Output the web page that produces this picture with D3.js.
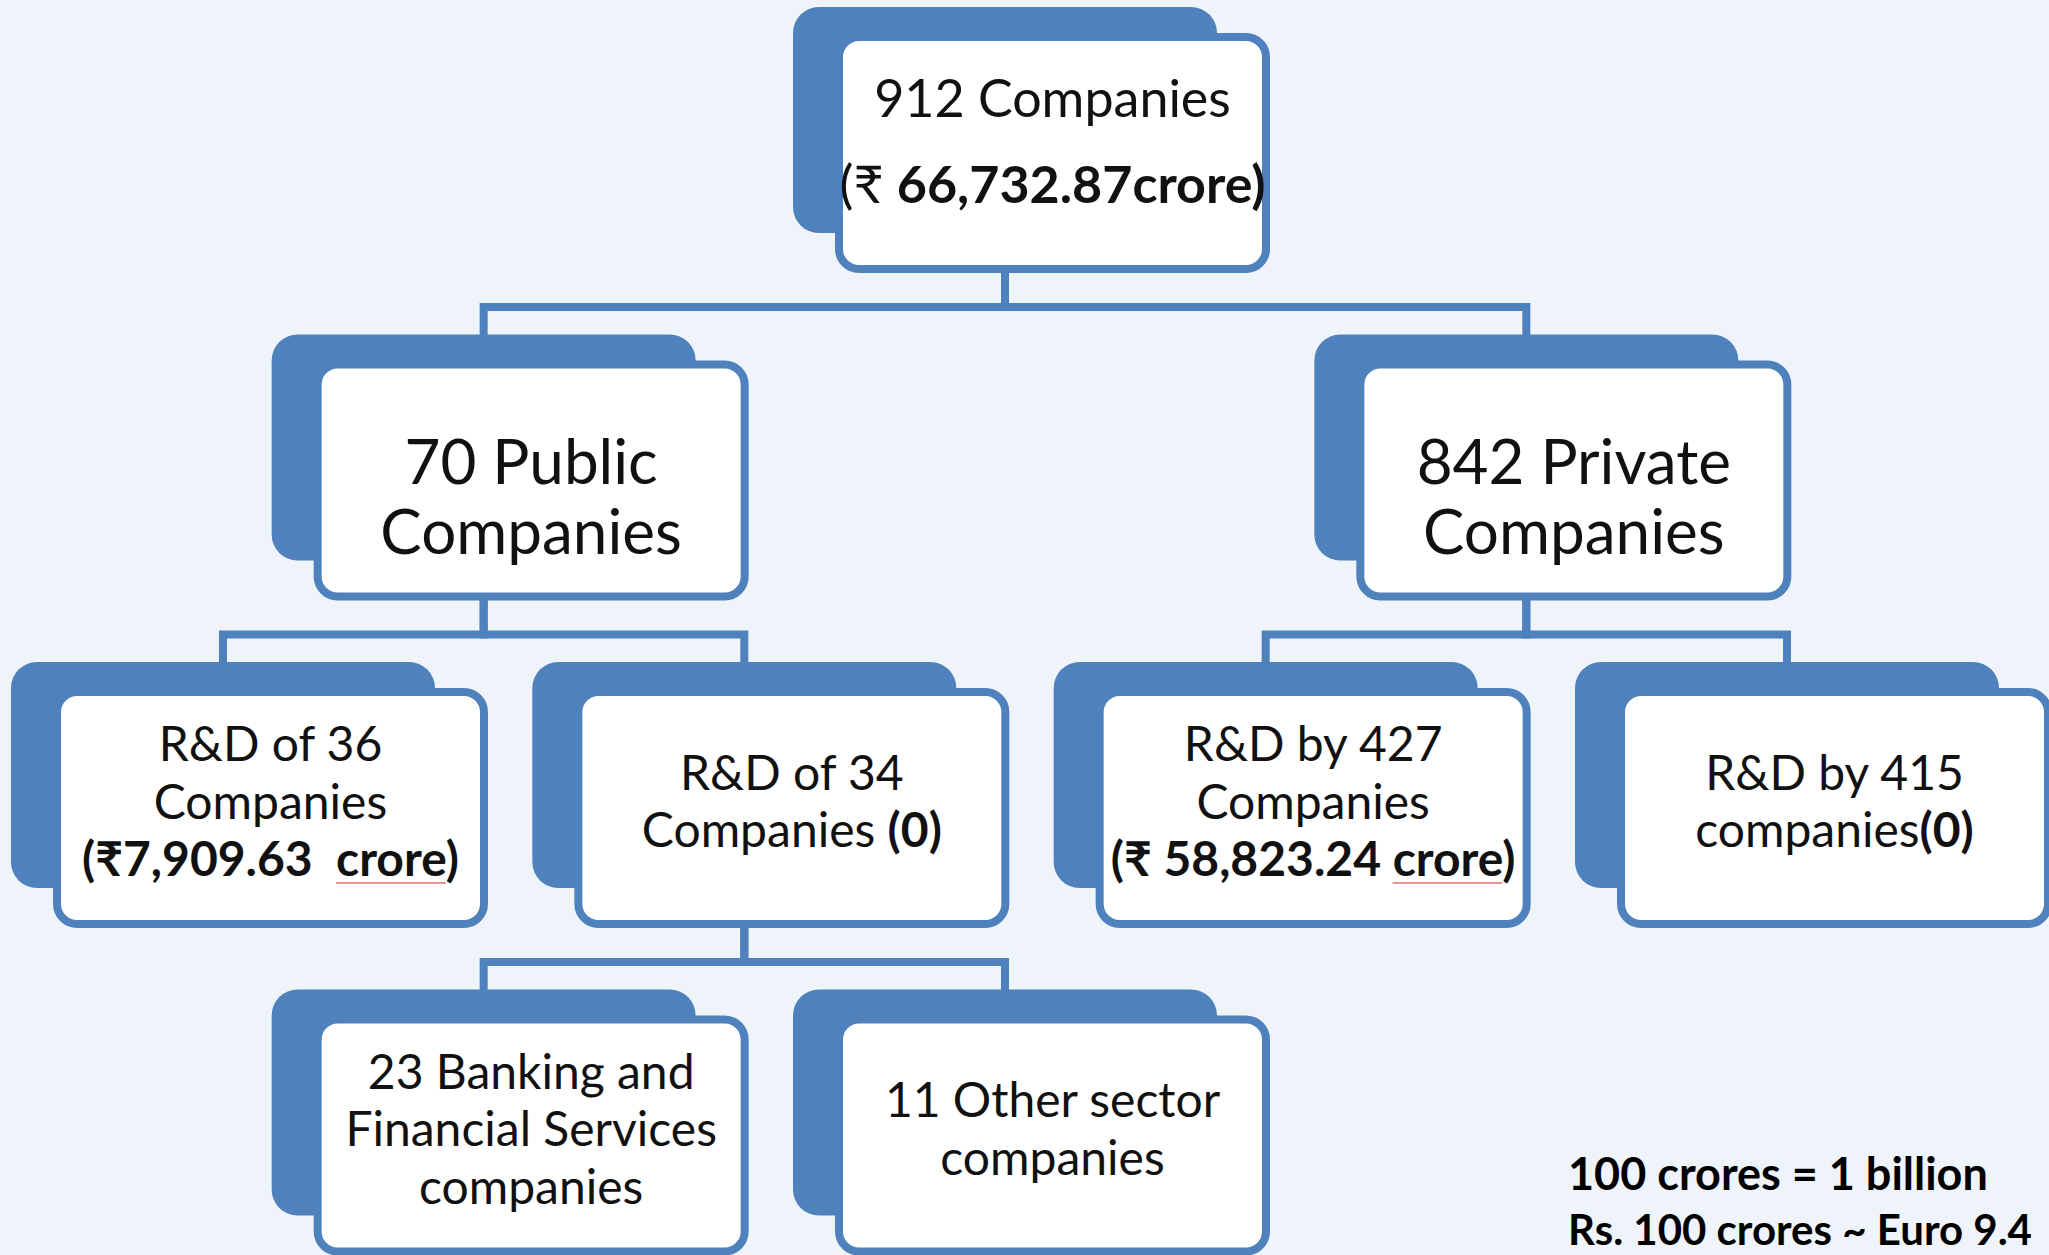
<!DOCTYPE html>
<html>
<head>
<meta charset="utf-8">
<script src="https://cdn.jsdelivr.net/npm/d3@7"></script>
<style>
  body { margin: 0; background: #eef4fa; overflow: hidden; }
  text { font-family: Lato, "Open Sans", "Noto Sans", sans-serif; white-space: pre; }
</style>
</head>
<body>
<script>
// org-chart nodes (id, parent, label lines; **...** = bold)
var nodeIds   = ["all", "public", "private", "pubRD", "pubNoRD", "privRD", "privNoRD", "banking", "other"];
var parentIds = ["",    "all",    "all",     "public", "public",  "private", "private", "pubNoRD", "pubNoRD"];
var nodeLines = [
  ["912 Companies", "(₹ **66,732.87crore)**"],
  ["70 Public", "Companies"],
  ["842 Private", "Companies"],
  ["R&D of 36", "Companies", "**(₹7,909.63  crore)**"],
  ["R&D of 34", "Companies **(0)**"],
  ["R&D by 427", "Companies", "**(₹ 58,823.24 crore)**"],
  ["R&D by 415", "companies**(0)**"],
  ["23 Banking and", "Financial Services", "companies"],
  ["11 Other sector", "companies"]
];
var footnotes = ["100 crores = 1 billion", "Rs. 100 crores ~ Euro 9.4"];

var width = 2049, height = 1255;
var blue = "#4f81bd";

var colStep = 260.67, rowStep = 327.5;
var originX = 1005, topY = 33;
var boxW = 435, boxH = 240;

// text style per depth
var depthStyle = [
  {size: 52, gap: 86, mid: 127},
  {size: 62, gap: 70, mid: 158},
  {size: 48, gap: 57.5, mid: 130.5},
  {size: 48, gap: 57.5, mid: 130.5}
];

var svg = d3.select("body").append("svg")
    .attr("width", width)
    .attr("height", height);

svg.append("rect")
    .attr("width", width)
    .attr("height", height)
    .attr("fill", "#eef4fa");

var rows = nodeIds.map(function(id, i) {
  return {id: id, parent: parentIds[i] || null, lines: nodeLines[i]};
});

var root = d3.stratify()
    .id(function(d) { return d.id; })
    .parentId(function(d) { return d.parent; })(rows);

d3.tree()
    .nodeSize([colStep, rowStep])
    .separation(function() { return 2; })(root);

function cx(d) { return originX + d.x; }
function boxTop(d) { return topY + d.y; }

// connectors
svg.append("g").selectAll("path")
    .data(root.links())
  .enter().append("path")
    .attr("fill", "none")
    .attr("stroke", blue)
    .attr("stroke-width", 8)
    .attr("d", function(l) {
      var y0 = boxTop(l.source) + boxH - 4, ym = boxTop(l.source) + boxH + 34;
      return "M" + cx(l.source) + "," + y0 + "V" + ym + "H" + cx(l.target) + "V" + (boxTop(l.target) - 20);
    });

var node = svg.append("g").selectAll("g")
    .data(root.descendants())
  .enter().append("g");

// back tab
node.append("rect")
    .attr("x", function(d) { return cx(d) - 212; })
    .attr("y", function(d) { return boxTop(d) - 26; })
    .attr("width", 424)
    .attr("height", boxH - 14)
    .attr("rx", 26)
    .attr("fill", blue);

// white card
node.append("rect")
    .attr("x", function(d) { return cx(d) - 170 + 4; })
    .attr("y", function(d) { return boxTop(d) + 4; })
    .attr("width", boxW - 8)
    .attr("height", boxH - 8)
    .attr("rx", 20)
    .attr("fill", "#fff")
    .attr("stroke", blue)
    .attr("stroke-width", 8);

node.each(function(d) {
  var st = depthStyle[d.depth];
  var lines = d.data.lines;
  var g = d3.select(this);
  var tx = cx(d) - 170 + boxW / 2;
  lines.forEach(function(line, i) {
    var y = boxTop(d) + st.mid + (i - (lines.length - 1) / 2) * st.gap;
    var t = g.append("text")
        .attr("x", tx)
        .attr("y", y)
        .attr("text-anchor", "middle")
        .attr("font-size", st.size)
        .attr("fill", "#111");
    line.split(/\*\*(.*?)\*\*/).forEach(function(part, j) {
      if (!part) return;
      t.append("tspan")
          .attr("font-weight", j % 2 ? "bold" : "normal")
          .text(part);
    });

    // spell-check squiggle under a lone "crore"
    var k = t.text().indexOf(" crore");
    if (d.depth === 2 && k >= 0) {
      var el = t.node();
      var x0 = el.getStartPositionOfChar(k + 1).x,
          x1 = el.getEndPositionOfChar(k + 5).x;
      g.append("line")
          .attr("x1", x0).attr("x2", x1)
          .attr("y1", y + 7).attr("y2", y + 7)
          .attr("stroke", "#e07070")
          .attr("stroke-width", 1.5);
    }
  });
});

svg.append("g").selectAll("text")
    .data(footnotes)
  .enter().append("text")
    .attr("x", 1568)
    .attr("y", function(d, i) { return 1190 + i * 55; })
    .attr("font-size", function(d, i) { return i ? 42 : 45; })
    .attr("font-weight", "bold")
    .attr("fill", "#000")
    .text(function(d) { return d; });
</script>
</body>
</html>
